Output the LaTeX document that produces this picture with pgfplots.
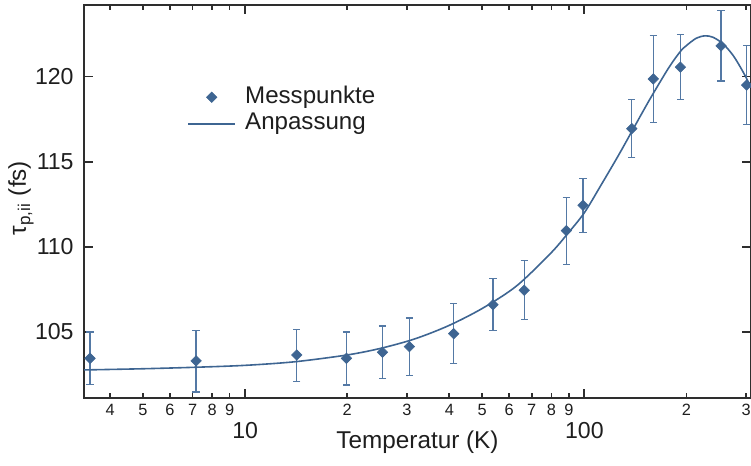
\documentclass[border=0pt]{standalone}
\usepackage{pgfplots}
\usepackage{pgfplotstable}
\pgfplotsset{compat=1.18}
\usepackage{fontspec}
\setmainfont{Liberation Sans}
\usetikzlibrary{calc}
\definecolor{mk}{HTML}{3E6592}
\definecolor{eb}{HTML}{5479A5}
\definecolor{fr}{HTML}{2E2E2E}
\definecolor{tx}{HTML}{1E1E1E}

\pgfplotsset{
  mklegend/.style={legend image code/.code={\draw[mark repeat=2, mark phase=2, ##1] plot coordinates {(0bp,0bp) (11.75bp,0bp) (23.5bp,0bp)};}},
  lnlegend/.style={legend image code/.code={\draw[##1] (0bp,0bp) -- (23.5bp,0bp);}},
}

\pgfplotstableread{
T     tau     ep    em
3.49  103.45  1.55  1.52
7.17  103.30  1.78  1.83
14.2  103.65  1.51  1.57
19.9  103.45  1.55  1.57
25.4  103.81  1.54  1.55
30.5  104.14  1.68  1.68
41.2  104.90  1.75  1.74
53.8  106.60  1.53  1.50
66.5  107.45  1.74  1.73
88.5  110.95  1.94  2.00
99.1  112.44  1.55  1.58
138   116.94  1.69  1.68
159.7 119.86  2.53  2.54
192   120.55  1.94  1.92
253   121.80  2.06  2.06
301   119.50  2.30  2.34
}\messdata

\pgfplotstableread{
T     tau
3.35  102.77
5     102.84
7.2   102.93
10    103.04
14    103.25
20    103.65
25.1  104.04
31.6  104.59
39.8  105.37
50.1  106.39
63.1  107.70
79.4  109.60
89.1  110.75
100   112.00
112.2 113.65
125.9 115.35
138.0 116.77
147.9 117.85
158.5 118.90
177.8 120.55
191.9 121.47
199.5 121.80
213.8 122.25
227.0 122.39
239.9 122.30
257.0 121.90
275.4 121.20
295.1 120.20
310.0 119.35
}\fitdata

\begin{document}
\begin{tikzpicture}
\begin{axis}[
  xmode=log,
  scale only axis,
  width=333.5bp, height=196.35bp,
  xmin=3.35, xmax=310, ymin=101.14, ymax=124.2,
  axis line style={fr, line width=1bp},
  every tick/.style={fr, line width=0.9bp},
  tick align=inside,
  major tick length=4.5bp,
  xminorticks=false, yminorticks=false,
  /pgf/number format/assume math mode=true,
  ytick={105,110,115,120},
  yticklabels={105,110,115,120},
  yticklabel style={anchor=east, inner sep=0pt, xshift=-5bp, text=tx, font=\fontsize{11.6}{13}\selectfont},
  xtick={10,100},
  xticklabels={10,100},
  xticklabel style={anchor=north, inner sep=0pt, yshift=-12bp, text=tx, font=\fontsize{11.6}{13}\selectfont},
  extra x ticks={4,5,6,7,8,9,20,30,40,50,60,70,80,90,200,300},
  extra x tick labels={4,5,6,7,8,9,2,3,4,5,6,7,8,9,2,3},
  extra x tick style={major tick length=2.5bp, xticklabel style={yshift=9bp, font=\fontsize{8.2}{10}\selectfont}},
  xlabel={Temperatur (K)},
  xlabel style={at={(axis description cs:0.5,0)}, anchor=base, yshift=-25.5bp, text=tx, font=\fontsize{12.2}{14}\selectfont},
  ylabel={τ\textsubscript{p,ii} (fs)},
  ylabel style={at={(axis description cs:-0.0945,0.5085)}, anchor=center, text=tx, font=\fontsize{12.2}{14}\selectfont},
  legend style={draw=none, fill=none, at={(0.1544,0.7313)}, anchor=west, inner sep=0pt,
    font=\fontsize{12.1}{13}\selectfont, text=tx, row sep=2.3bp, column sep=4.6bp,
    nodes={inner sep=0pt, text height=8.5bp, text depth=2.5bp}},
  legend cell align=left,
]
\addplot[only marks, mark=square*, mark size=1.85bp, mark options={rotate=45, fill=mk, draw=mk, line width=0.3bp},
  mklegend,
  error bars/.cd, y dir=both, y explicit,
  error bar style={eb, line width=0.6bp},
  error mark options={eb, line width=0.6bp, mark size=1.8bp, rotate=90}]
  table[x=T, y=tau, y error plus=ep, y error minus=em]{\messdata};
\addlegendentry{Messpunkte}
\addplot[mk, line width=0.8bp, smooth, mark=none, lnlegend] table[x=T, y=tau]{\fitdata};
\addlegendentry{Anpassung}
\coordinate (SW) at (rel axis cs:0,0);
\coordinate (NE) at (rel axis cs:1,1);
\end{axis}
\pgfresetboundingbox
\path[use as bounding box] ($(SW)+(-42bp,-34.15bp)$) rectangle ($(NE)+(0bp,2.5bp)$);
\end{tikzpicture}
\end{document}
